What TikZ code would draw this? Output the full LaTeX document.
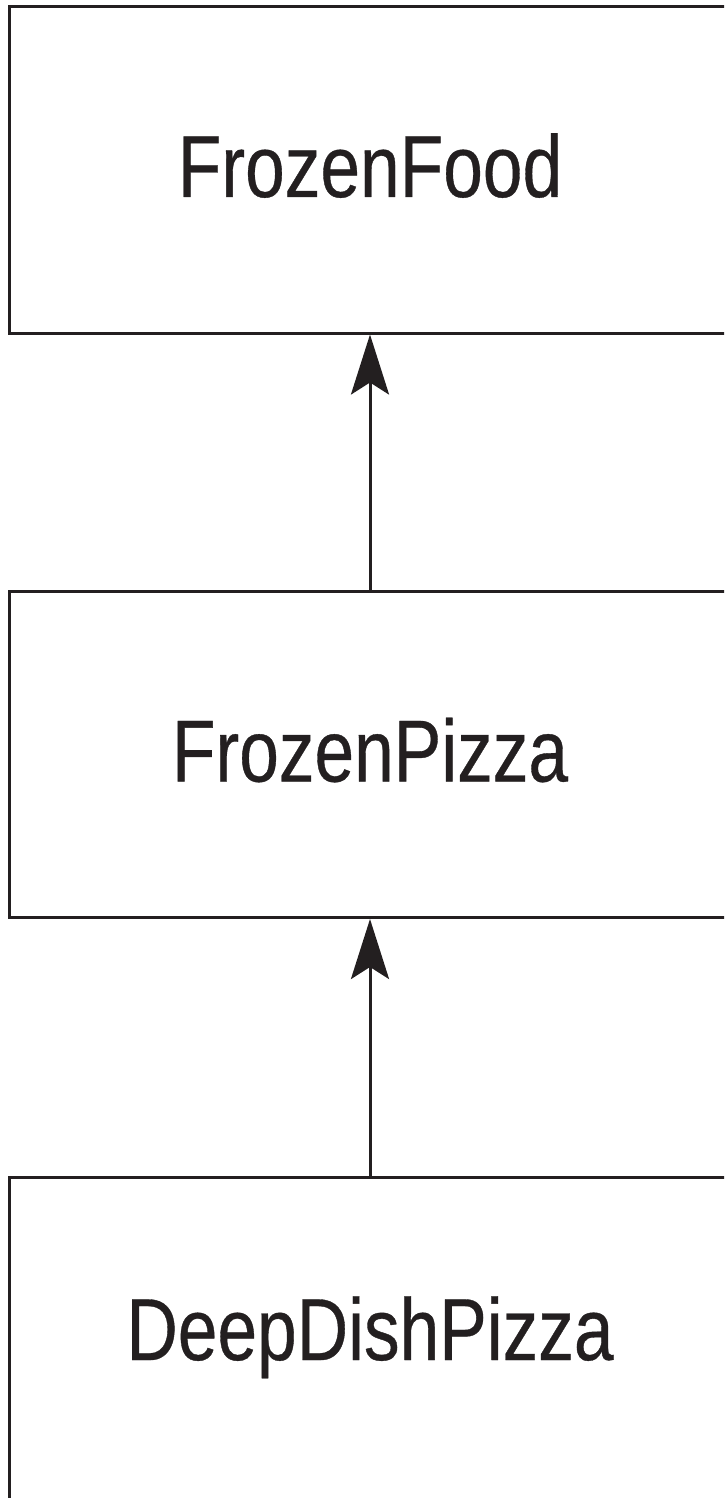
\documentclass[tikz,border=0pt]{standalone}
\usepackage{fontspec}
\usepackage{tikz}
\usetikzlibrary{arrows.meta}
\newfontfamily\boxfont[FakeStretch=0.81, FakeBold=0.4]{Liberation Sans}
\definecolor{ink}{HTML}{231F20}

\begin{document}
\begin{tikzpicture}[x=0.5pt, y=-0.5pt,
  classbox/.style={draw=ink, line width=1.5pt, rectangle, fill=white,
    minimum width=360.5pt, minimum height=163pt, inner sep=0pt,
    text height=32pt, text depth=5pt,
    font=\boxfont\fontsize{44}{50}\selectfont, text=ink},
  inherit/.style={draw=ink, line width=1.5pt,
    -{Stealth[length=30pt, width=19pt, inset=6pt]}}]
  \clip (0,0) rectangle (724,1498);
  % Nodes
  \node[classbox] (Food) at (370,170) {FrozenFood};
  \node[classbox] (Pizza) at (370,754.5) {FrozenPizza};
  \node[classbox, text depth=12pt] (DeepDish) at (370,1340) {DeepDishPizza};

  % Edges
  \draw[inherit] (Pizza.north) -- (Food.south);
  \draw[inherit] (DeepDish.north) -- (Pizza.south);
\end{tikzpicture}
\end{document}
